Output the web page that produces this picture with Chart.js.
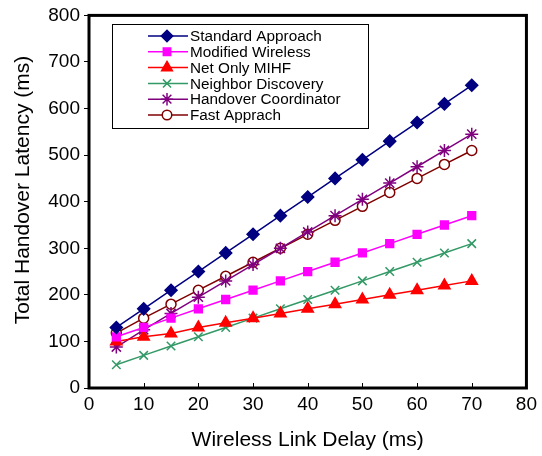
<!DOCTYPE html>
<html>
<head>
<meta charset="utf-8">
<script src="https://cdn.jsdelivr.net/npm/chart.js@4/dist/chart.umd.min.js"></script>
<style>
  html, body { margin: 0; padding: 0; background: #fff; }
  #wrap { width: 542px; height: 456px; }
</style>
</head>
<body>
<div id="wrap"><canvas id="chart" width="542" height="456"></canvas></div>
<script>
// ---- data ----
const delays      = [5, 10, 15, 20, 25, 30, 35, 40, 45, 50, 55, 60, 65, 70];
const standard    = [130, 170, 210, 250, 290, 330, 370, 410, 450, 490, 530, 570, 610, 650];
const modified    = [110, 130, 150, 170, 190, 210, 230, 250, 270, 290, 310, 330, 350, 370];
const netOnly     = [100, 110, 117, 130, 140, 150, 160, 170, 180, 190, 200, 210, 220, 230];
const neighbor    = [50, 70, 90, 110, 130, 150, 170, 190, 210, 230, 250, 270, 290, 310];
const coordinator = [88, 125, 160, 195, 230, 265, 300, 335, 370, 405, 440, 475, 510, 545];
const fast        = [118, 150, 180, 210, 240, 270, 300, 330, 360, 390, 420, 450, 480, 510];
const seriesNames = ['Standard Approach', 'Modified Wireless', 'Net Only MIHF',
                     'Neighbor Discovery', 'Handover Coordinator', 'Fast Apprach'];
const yTitle = 'Total Handover Latency (ms)';
const xTitle = 'Wireless Link Delay (ms)';

const FONT = 'Arial, "Liberation Sans", sans-serif';

function series(label, values, color, style, radius, fill) {
    return {
        label,
        data: delays.map((d, i) => ({ x: d, y: values[i] })),
        borderColor: color,
        backgroundColor: fill || color,
        pointBorderColor: color,
        pointBackgroundColor: fill || color,
        pointStyle: style,
        pointRadius: radius,
        pointHoverRadius: radius,
        pointBorderWidth: 1.5,
        borderWidth: 1.5,
        tension: 0,
    };
}

const datasets = [
    series(seriesNames[0], standard,    '#000080', 'rectRot',  6),
    series(seriesNames[1], modified,    '#FF00FF', 'rect',     5.5),
    series(seriesNames[2], netOnly,     '#FF0000', 'triangle', 6.5),
    series(seriesNames[3], neighbor,    '#339966', 'crossRot', 6),
    series(seriesNames[4], coordinator, '#800080', 'star',     6.5),
    series(seriesNames[5], fast,        '#800000', 'circle',   5, '#ffffff'),
];

// frame, inner x ticks, y title (sits a little above centre in the original)
const framePlugin = {
    id: 'frame',
    afterDraw(chart) {
        const { ctx, chartArea: a } = chart;
        const xs = chart.scales.x;
        ctx.save();
        ctx.strokeStyle = '#000';
        ctx.lineWidth = 1;
        for (let v = 10; v < 80; v += 10) {
            const px = Math.round(xs.getPixelForValue(v)) + 0.5;
            ctx.beginPath();
            ctx.moveTo(px, a.bottom);
            ctx.lineTo(px, a.bottom - 5);
            ctx.stroke();
        }
        ctx.lineWidth = 3;
        ctx.strokeRect(a.left, a.top, a.right - a.left, a.bottom - a.top);

        ctx.translate(23, 190);
        ctx.rotate(-Math.PI / 2);
        ctx.fillStyle = '#000';
        ctx.font = '21px ' + FONT;
        ctx.textAlign = 'center';
        ctx.textBaseline = 'middle';
        ctx.fillText(yTitle, 0, 0);
        ctx.restore();
    }
};

// boxed legend inside the plot
const legendPlugin = {
    id: 'boxLegend',
    afterDraw(chart) {
        const { ctx } = chart;
        const bx = 112, by = 24, bw = 256, bh = 104;
        ctx.save();
        ctx.fillStyle = '#fff';
        ctx.fillRect(bx, by, bw, bh);
        ctx.strokeStyle = '#000';
        ctx.lineWidth = 1;
        ctx.strokeRect(bx + 0.5, by + 0.5, bw, bh);
        ctx.font = '15.3px ' + FONT;
        ctx.textBaseline = 'middle';
        chart.data.datasets.forEach((ds, i) => {
            const y = 36 + i * 15.8;
            ctx.strokeStyle = ds.borderColor;
            ctx.lineWidth = 1.5;
            ctx.beginPath();
            ctx.moveTo(148, y);
            ctx.lineTo(188, y);
            ctx.stroke();
            ctx.fillStyle = ds.pointBackgroundColor;
            ctx.strokeStyle = ds.pointBorderColor;
            Chart.helpers.drawPoint(ctx, {
                pointStyle: ds.pointStyle, radius: ds.pointRadius * 0.95,
                rotation: 0, borderWidth: 1.5
            }, 167, y);
            ctx.fillStyle = '#000';
            ctx.fillText(ds.label, 190, y + 1);
        });
        ctx.restore();
    }
};

new Chart(document.getElementById('chart'), {
    type: 'line',
    data: { datasets },
    options: {
        responsive: false,
        animation: false,
        layout: { padding: { top: 13, right: 15, left: 0, bottom: 0 } },
        plugins: { legend: { display: false }, tooltip: { enabled: false } },
        scales: {
            x: {
                type: 'linear', min: 0, max: 80,
                ticks: { stepSize: 10, color: '#000', padding: 5, font: { size: 19, family: FONT } },
                grid: { display: true, drawOnChartArea: false, drawTicks: false },
                border: { display: false },
                title: { display: true, text: xTitle, color: '#000',
                         font: { size: 21, family: FONT }, padding: { top: 0, bottom: 3 } },
                afterFit(s) { s.height = 68; }
            },
            y: {
                min: 0, max: 800,
                ticks: { stepSize: 100, color: '#000', padding: 4, font: { size: 19, family: FONT } },
                grid: { drawOnChartArea: false, drawTicks: true, tickLength: 5, color: '#000', tickWidth: 1 },
                border: { display: false },
                afterFit(s) { s.width = 89; }
            }
        }
    },
    plugins: [framePlugin, legendPlugin]
});
</script>
</body>
</html>
